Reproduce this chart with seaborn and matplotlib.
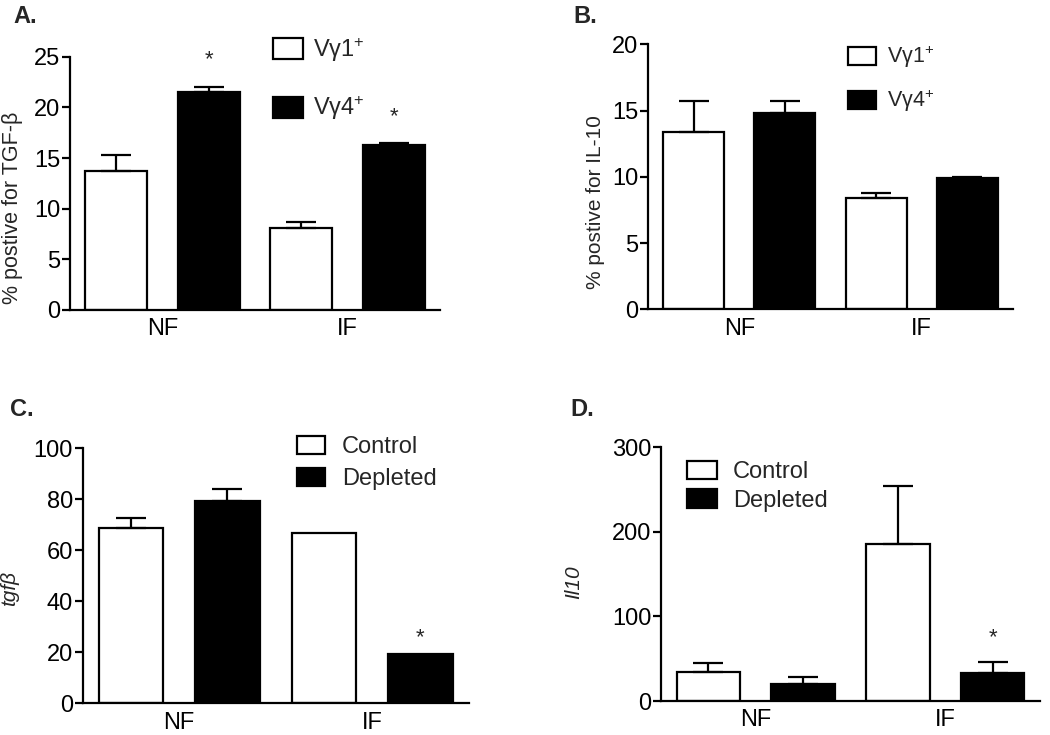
import numpy as np
import pandas as pd
import seaborn as sns
import matplotlib.pyplot as plt

# data
sites = ['NF', 'IF']

# A: % positive for TGF-beta
a_groups = ['Vγ1$^{+}$', 'Vγ4$^{+}$']
a_vg1 = [13.7, 8.1]
a_vg1_err = [1.6, 0.6]
a_vg4 = [21.5, 16.3]
a_vg4_err = [0.5, 0.15]
a_vg4_sig = [True, True]

# B: % positive for IL-10
b_groups = ['Vγ1$^{+}$', 'Vγ4$^{+}$']
b_vg1 = [13.4, 8.4]
b_vg1_err = [2.3, 0.4]
b_vg4 = [14.8, 9.9]
b_vg4_err = [0.9, 0.1]
b_vg4_sig = [False, False]

# C: tgfb expression
c_groups = ['Control', 'Depleted']
c_ctrl = [68.6, 66.9]
c_ctrl_err = [3.9, 0.0]
c_depl = [79.5, 19.2]
c_depl_err = [4.4, 0.0]
c_depl_sig = [False, True]

# D: Il10 expression
d_groups = ['Control', 'Depleted']
d_ctrl = [34.7, 185.6]
d_ctrl_err = [9.9, 68.4]
d_depl = [19.7, 32.7]
d_depl_err = [8.3, 13.1]
d_depl_sig = [False, True]

sns.set_style('ticks')
plt.rcParams['font.family'] = ['Liberation Sans', 'DejaVu Sans']
plt.rcParams['mathtext.fontset'] = 'custom'
plt.rcParams['mathtext.rm'] = 'Liberation Sans'
plt.rcParams['mathtext.default'] = 'regular'

fig = plt.figure(figsize=(10.5, 7.35), dpi=100)


def panel(rect, groups, v1, e1, v2, e2, sig, ylim, step, ylabel, ylab_kw,
          label_xy, leg_anchor, leg_kw, star_off):
    ax = fig.add_axes(rect)
    df = pd.DataFrame({
        'site': sites * 2,
        'group': [groups[0]] * 2 + [groups[1]] * 2,
        'value': v1 + v2,
    })
    sns.barplot(data=df, x='site', y='value', hue='group', order=sites,
                hue_order=groups, palette={groups[0]: 'white', groups[1]: 'black'},
                edgecolor='black', linewidth=1.6, width=1.0, gap=0.33,
                errorbar=None, ax=ax)

    # one-sided error bars (upper only), like Prism
    for cont, errs in zip(ax.containers, [e1, e2]):
        xs = np.array([p.get_x() + p.get_width() / 2 for p in cont])
        ys = np.array(cont.datavalues)
        errs = np.array(errs)
        m = errs > 0
        if m.any():
            ax.errorbar(xs[m], ys[m], yerr=[np.zeros(m.sum()), errs[m]],
                        fmt='none', ecolor='black', elinewidth=1.6,
                        capsize=11, capthick=1.6)

    # significance stars on second group
    cont = ax.containers[1]
    for p, s, v, e in zip(cont, sig, v2, e2):
        if s:
            ax.annotate('*', (p.get_x() + p.get_width() / 2, v + e),
                        xytext=(0, star_off), textcoords='offset pixels',
                        ha='center', va='center', fontsize=16)

    ax.set_xlim(-0.5, 1.5)
    ax.set_ylim(0, ylim)
    ax.set_yticks(np.arange(0, ylim + step / 2, step))
    ax.set_xlabel('')
    ax.set_ylabel(ylabel, **ylab_kw)
    ax.yaxis.set_label_coords(*label_xy)
    sns.despine(ax=ax)
    for sp in ['left', 'bottom']:
        ax.spines[sp].set_linewidth(1.6)
        ax.spines[sp].set_color('black')
    ax.tick_params(axis='y', direction='out', length=6, width=1.6,
                   labelsize=17, pad=1, colors='black')
    ax.tick_params(axis='x', length=0, labelsize=17, pad=6, colors='black')

    leg = ax.get_legend()
    handles = leg.legend_handles
    labels = [t.get_text() for t in leg.get_texts()]
    leg.remove()
    ax.legend(handles, labels, loc='upper left', bbox_to_anchor=leg_anchor,
              bbox_transform=fig.transFigure, frameon=False, borderpad=0,
              borderaxespad=0, **leg_kw)
    return ax


panel([70 / 1050, 1 - 310 / 735, 370 / 1050, 253.3 / 735],
      a_groups, a_vg1, a_vg1_err, a_vg4, a_vg4_err, a_vg4_sig,
      25, 5, '% postive for TGF-β', dict(fontsize=15.5),
      (-0.128, 0.405), (273 / 1050, 1 - 36 / 735),
      dict(fontsize=17, handlelength=1.25, handleheight=1.0,
           labelspacing=1.3, handletextpad=0.45), 27)

panel([648 / 1050, 1 - 309.3 / 735, 365 / 1050, 265 / 735],
      b_groups, b_vg1, b_vg1_err, b_vg4, b_vg4_err, b_vg4_sig,
      20, 5, '% postive for IL-10', dict(fontsize=15),
      (-0.118, 0.405), (848 / 1050, 1 - 44 / 735),
      dict(fontsize=15.5, handlelength=1.3, handleheight=0.95,
           labelspacing=0.8, handletextpad=0.5), 25)

panel([82.7 / 1050, 1 - 703.3 / 735, 386 / 1050, 255 / 735],
      c_groups, c_ctrl, c_ctrl_err, c_depl, c_depl_err, c_depl_sig,
      100, 20, 'tgfβ', dict(fontsize=15, style='italic'),
      (-0.165, 0.45), (297 / 1050, 1 - 436 / 735),
      dict(fontsize=17, handlelength=1.2, handleheight=0.8,
           labelspacing=0.42, handletextpad=0.7), 17)

panel([661 / 1050, 1 - 701 / 735, 379 / 1050, 253.7 / 735],
      d_groups, d_ctrl, d_ctrl_err, d_depl, d_depl_err, d_depl_sig,
      300, 100, 'Il10', dict(fontsize=15, style='italic'),
      (-0.206, 0.47), (687 / 1050, 1 - 461 / 735),
      dict(fontsize=17, handlelength=1.25, handleheight=0.82,
           labelspacing=0.25, handletextpad=0.7), 25)

for txt, x, y in [('A.', 13, 5), ('B.', 573, 5), ('C.', 10, 398), ('D.', 570, 398)]:
    fig.text(x / 1050, 1 - y / 735, txt, fontsize=17, fontweight='bold',
             ha='left', va='top')

fig.savefig('out.png', dpi=100)
